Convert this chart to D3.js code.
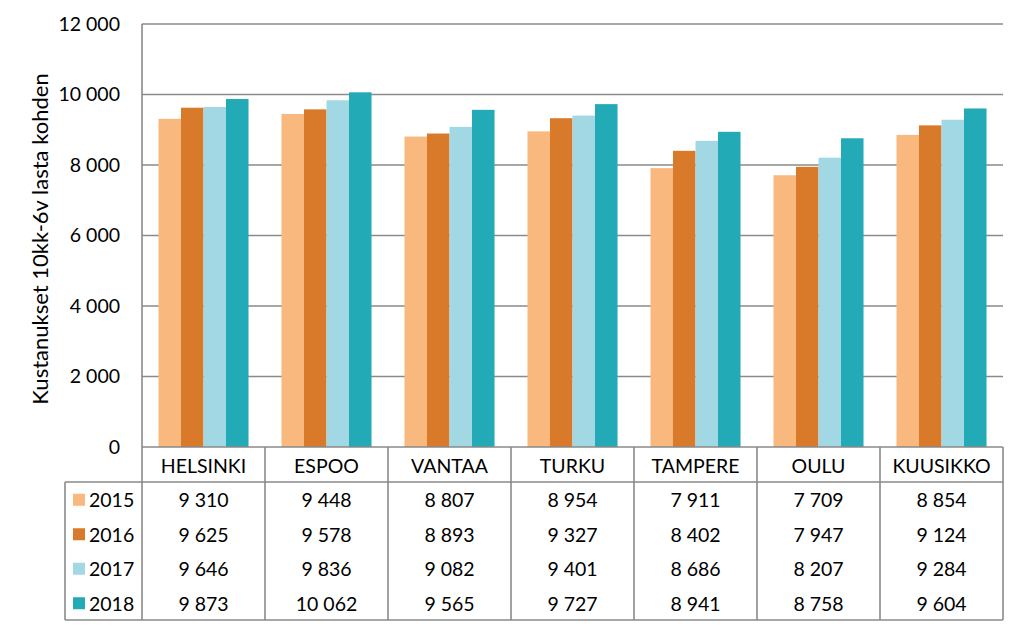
<!DOCTYPE html>
<html><head><meta charset="utf-8">
<script src="https://cdn.jsdelivr.net/npm/d3@7"></script>
<style>
html,body{margin:0;padding:0;background:#fff;}
text{font-family:Lato,"Open Sans",sans-serif;fill:#000;}
</style></head>
<body><svg id="c" width="1024" height="630"></svg>
<script>
const categories = ["HELSINKI","ESPOO","VANTAA","TURKU","TAMPERE","OULU","KUUSIKKO"];
const years = ["2015","2016","2017","2018"];
const v2015 = [9310,9448,8807,8954,7911,7709,8854];
const v2016 = [9625,9578,8893,9327,8402,7947,9124];
const v2017 = [9646,9836,9082,9401,8686,8207,9284];
const v2018 = [9873,10062,9565,9727,8941,8758,9604];
const colors = ["#F9B87E","#D9792A","#A1D8E3","#22AAB6"];
const yTicks = [0,2000,4000,6000,8000,10000,12000];
const yTitle = "Kustanukset 10kk-6v lasta kohden";

const series = [v2015,v2016,v2017,v2018];
const svg = d3.select("#c");
const L = 142, R = 1003, T = 24, B = 447;
const tableLeft = 65, headerBottom = 482, tableBottom = 620;
const lineCol = "#8a8a8a";
const FS = "19.5px";

const x = d3.scaleBand().domain(categories).range([L,R]).padding(0);
const xi = d3.scaleBand().domain(years).range([x.bandwidth()*0.134, x.bandwidth()*0.866]).padding(0);
const y = d3.scaleLinear().domain([0,12000]).range([B,T]);
const fmt = v => d3.format(",")(v).replace(/,/g," ");

// gridlines
svg.append("g").selectAll("line").data(yTicks.filter(d=>d>0)).join("line")
  .attr("x1",L).attr("x2",R).attr("y1",d=>y(d)).attr("y2",d=>y(d))
  .attr("stroke",lineCol).attr("stroke-width",1.4);

// y tick labels via axis
const yAxis = d3.axisLeft(y).tickValues(yTicks).tickSize(0).tickPadding(22).tickFormat(fmt);
const ga = svg.append("g").attr("transform",`translate(${L},0)`).call(yAxis);
ga.select(".domain").remove();
ga.selectAll("text").style("font-size",FS).style("font-family","Lato,sans-serif").attr("fill","#000");

// bars
const gb = svg.append("g");
series.forEach((s,i)=>{
  gb.selectAll(null).data(categories).join("rect")
    .attr("x",c=>x(c)+xi(years[i]))
    .attr("width",xi.bandwidth())
    .attr("y",(c,j)=>y(s[j]))
    .attr("height",(c,j)=>B-y(s[j]))
    .attr("fill",colors[i]);
});

// axes lines / table
const gl = svg.append("g").attr("stroke",lineCol).attr("stroke-width",1.6);
gl.append("line").attr("x1",L).attr("x2",L).attr("y1",T).attr("y2",tableBottom);
gl.append("line").attr("x1",L).attr("x2",R).attr("y1",B).attr("y2",B);
gl.append("line").attr("x1",tableLeft).attr("x2",R).attr("y1",headerBottom).attr("y2",headerBottom);
gl.append("line").attr("x1",tableLeft).attr("x2",R).attr("y1",tableBottom).attr("y2",tableBottom);
gl.append("line").attr("x1",tableLeft).attr("x2",tableLeft).attr("y1",headerBottom).attr("y2",tableBottom);
gl.selectAll(null).data(categories).join("line")
  .attr("x1",c=>x(c)+x.bandwidth()).attr("x2",c=>x(c)+x.bandwidth())
  .attr("y1",B).attr("y2",tableBottom);

// header
svg.append("g").selectAll("text").data(categories).join("text")
  .attr("x",c=>x(c)+x.bandwidth()/2).attr("y",465)
  .attr("text-anchor","middle").attr("dominant-baseline","central")
  .style("font-size",FS).text(c=>c);

// table rows
const rowH = (tableBottom-headerBottom)/4;
years.forEach((yr,i)=>{
  const cy = headerBottom + rowH*(i+0.5) + 0.5;
  svg.append("rect").attr("x",73).attr("y",cy-6).attr("width",12).attr("height",12).attr("fill",colors[i]);
  svg.append("text").attr("x",89).attr("y",cy).attr("dominant-baseline","central")
    .style("font-size",FS).text(yr);
  svg.append("g").selectAll("text").data(categories).join("text")
    .attr("x",c=>x(c)+x.bandwidth()/2).attr("y",cy)
    .attr("text-anchor","middle").attr("dominant-baseline","central")
    .style("font-size",FS).text((c,j)=>fmt(series[i][j]));
});

// y title
svg.append("text").attr("transform",`translate(39,239) rotate(-90)`)
  .attr("text-anchor","middle").attr("dominant-baseline","central")
  .style("font-size","22px").text(yTitle);
</script></body></html>
